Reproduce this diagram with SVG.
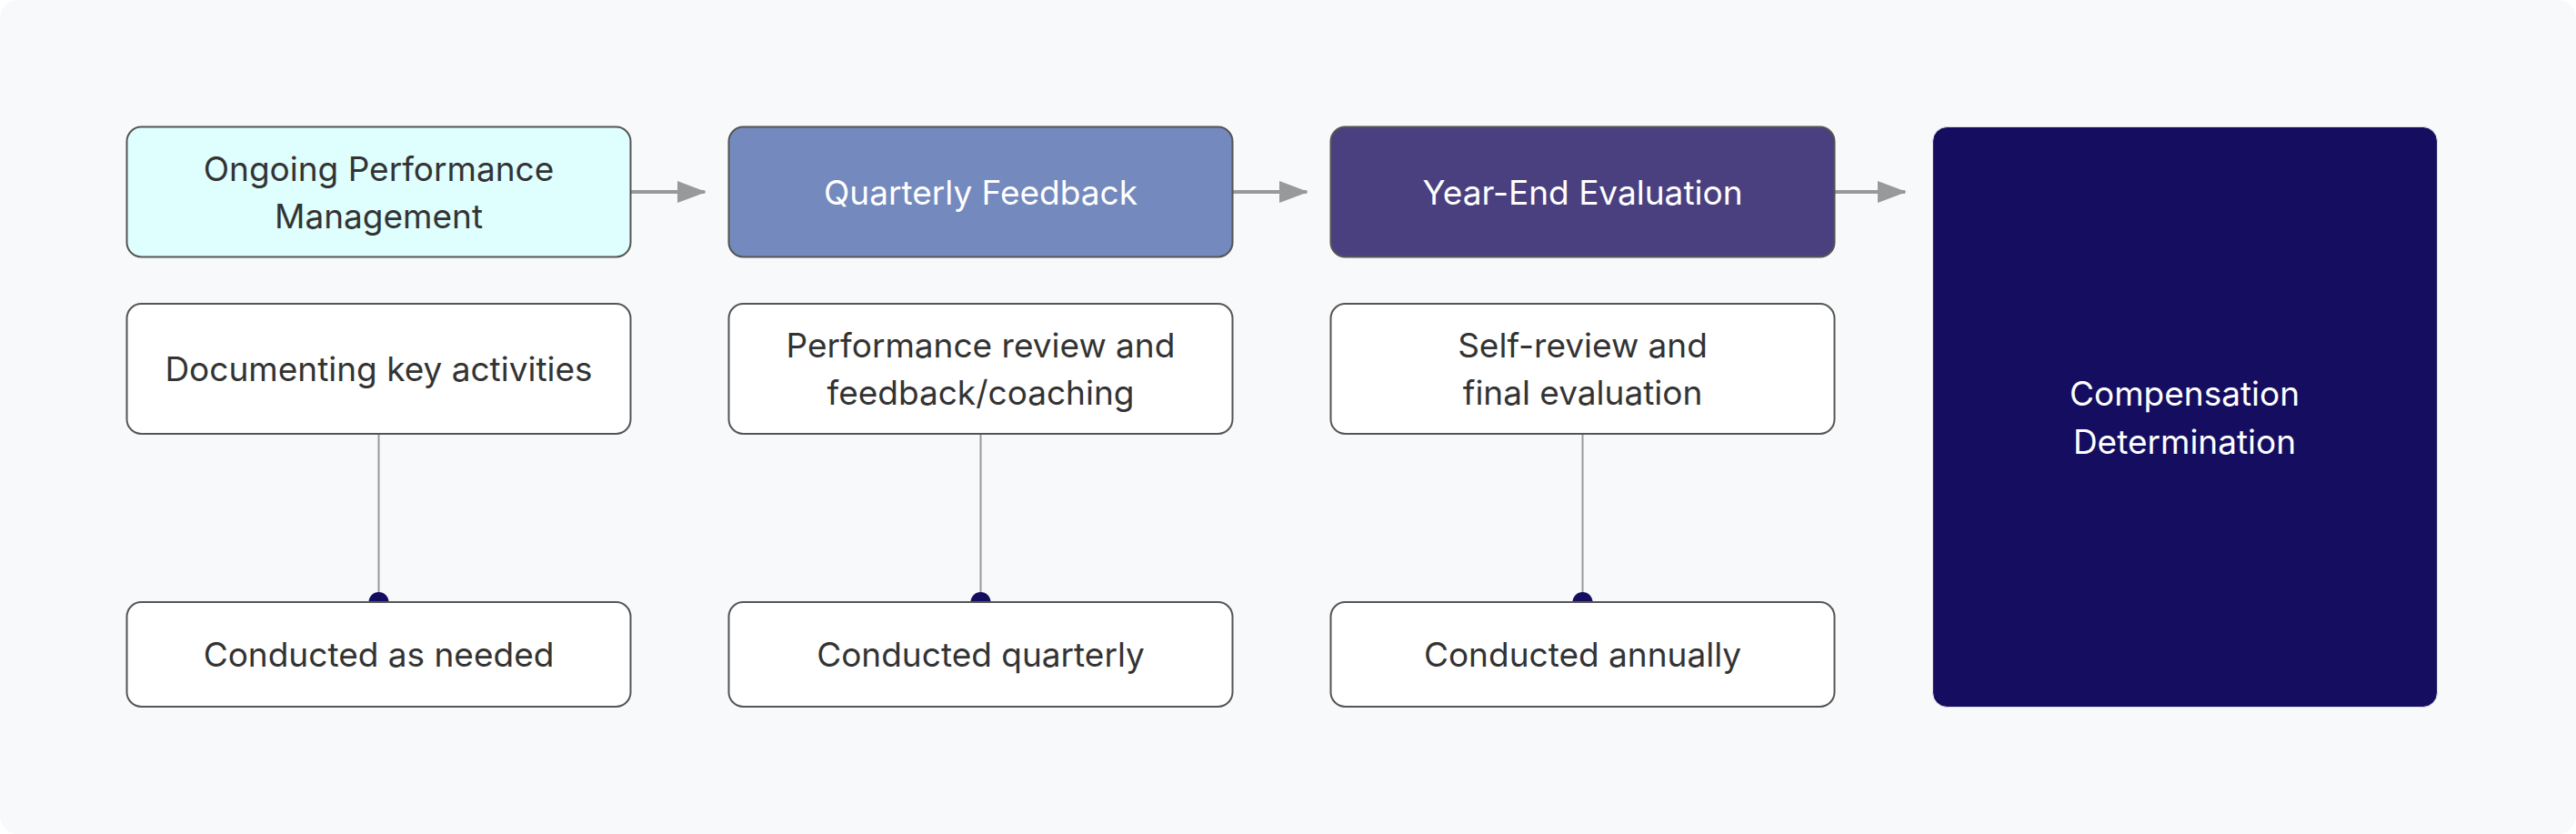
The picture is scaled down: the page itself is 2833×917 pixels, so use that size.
<svg xmlns="http://www.w3.org/2000/svg" width="2833" height="917" viewBox="0 0 2833 917">
<style>
  .box { stroke: #555555; stroke-width: 2; }
  .t { font-family: Inter, "Liberation Sans", sans-serif; font-size: 37px; text-anchor: middle; fill: #333333; }
  .w { fill: #ffffff; }
  .arrow { stroke: #999999; stroke-width: 4; fill: none; }
  .vline { stroke: #999999; stroke-width: 2; fill: none; }
  .dot { fill: #150E60; }
</style>
<defs>
  <marker id="ah" markerWidth="8" markerHeight="6" refX="7.5" refY="3" orient="auto" markerUnits="strokeWidth" viewBox="0 0 8 6">
    <path d="M0,0 L8,3 L0,6 Z" fill="#999999"/>
  </marker>
</defs>
<rect x="0" y="0" width="2833" height="917" rx="20" fill="#F8F9FB"/>

<g id="connectors">
  <line class="arrow" x1="694" y1="211" x2="775" y2="211" marker-end="url(#ah)"/>
  <line class="arrow" x1="1356" y1="211" x2="1437" y2="211" marker-end="url(#ah)"/>
  <line class="arrow" x1="2018" y1="211" x2="2095" y2="211" marker-end="url(#ah)"/>
  <line class="vline" x1="416.5" y1="477" x2="416.5" y2="662"/>
  <line class="vline" x1="1078.5" y1="477" x2="1078.5" y2="662"/>
  <line class="vline" x1="1740.5" y1="477" x2="1740.5" y2="662"/>
  <circle class="dot" cx="416.5" cy="662" r="11"/>
  <circle class="dot" cx="1078.5" cy="662" r="11"/>
  <circle class="dot" cx="1740.5" cy="662" r="11"/>
</g>

<g id="ongoing">
  <rect class="box" x="139.5" y="139.5" width="554" height="143" rx="16" fill="#DFFEFE"/>
  <text class="t" x="416.5" y="199">Ongoing Performance</text>
  <text class="t" x="416.5" y="251">Management</text>
</g>
<g id="quarterly">
  <rect class="box" x="801.5" y="139.5" width="554" height="143" rx="16" fill="#7489BD"/>
  <text class="t w" x="1078.5" y="225">Quarterly Feedback</text>
</g>
<g id="yearend">
  <rect class="box" x="1463.5" y="139.5" width="554" height="143" rx="16" fill="#4A4080"/>
  <text class="t w" x="1740.5" y="225">Year-End Evaluation</text>
</g>
<g id="compensation">
  <rect x="2125.5" y="139.5" width="555" height="638" rx="16" fill="#150E60" stroke="#d8d8e0" stroke-width="1"/>
  <text class="t w" x="2402.5" y="446">Compensation</text>
  <text class="t w" x="2402.5" y="499">Determination</text>
</g>

<g id="documenting">
  <rect class="box" x="139.5" y="334" width="554" height="143" rx="16" fill="#ffffff"/>
  <text class="t" x="416.5" y="419">Documenting key activities</text>
</g>
<g id="review">
  <rect class="box" x="801.5" y="334" width="554" height="143" rx="16" fill="#ffffff"/>
  <text class="t" x="1078.5" y="393">Performance review and</text>
  <text class="t" x="1078.5" y="445">feedback/coaching</text>
</g>
<g id="selfreview">
  <rect class="box" x="1463.5" y="334" width="554" height="143" rx="16" fill="#ffffff"/>
  <text class="t" x="1740.5" y="393">Self-review and</text>
  <text class="t" x="1740.5" y="445">final evaluation</text>
</g>

<g id="asneeded">
  <rect class="box" x="139.5" y="662" width="554" height="115" rx="16" fill="#ffffff"/>
  <text class="t" x="416.5" y="733">Conducted as needed</text>
</g>
<g id="quarterlyfreq">
  <rect class="box" x="801.5" y="662" width="554" height="115" rx="16" fill="#ffffff"/>
  <text class="t" x="1078.5" y="733">Conducted quarterly</text>
</g>
<g id="annually">
  <rect class="box" x="1463.5" y="662" width="554" height="115" rx="16" fill="#ffffff"/>
  <text class="t" x="1740.5" y="733">Conducted annually</text>
</g>
</svg>
